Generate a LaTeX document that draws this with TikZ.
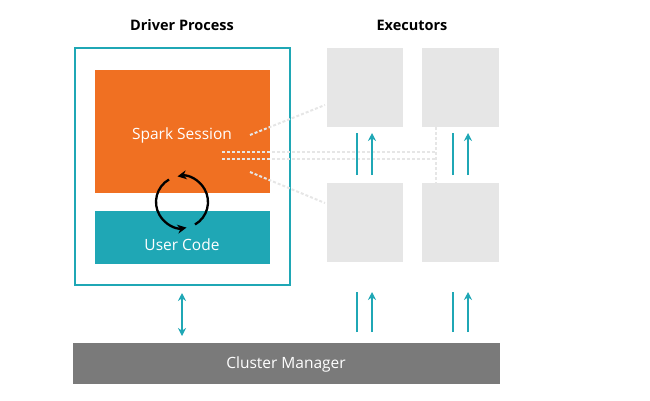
\documentclass[tikz,border=0pt]{standalone}
\usepackage{fontspec}
\usetikzlibrary{arrows.meta,calc}
\setmainfont{Open Sans}
\begin{document}
\begin{tikzpicture}[x=1pt,y=-1pt,
  exec/.style={fill=execc,draw=none},
  dots/.style={draw=dotc,line width=2pt,dash pattern=on 3pt off 2pt},
  lbl/.style={white,font=\fontsize{15.5}{18}\selectfont},
  ttl/.style={font=\fontsize{14.5}{17}\selectfont\bfseries},
  ar/.style={tealc,line width=2pt,-{Stealth[length=8pt,width=8pt]}}]
\definecolor{tealc}{HTML}{1FA7B5}
\definecolor{orangec}{HTML}{F07022}
\definecolor{execc}{HTML}{E6E6E6}
\definecolor{dotc}{HTML}{E6E6E6}
\definecolor{grayc}{HTML}{7A7A7A}
\useasboundingbox (0,0) rectangle (650,400);
\node[ttl] (t1) at (182,25) {Driver Process};
\node[ttl] (t2) at (412,25) {Executors};
\draw[tealc,line width=2pt] (75,48) rectangle (290,285);
\fill[orangec] (95,70) rectangle (270,193);
\node[lbl] (ss) at (182,135) {Spark Session};
\fill[tealc] (95,211) rectangle (270,264);
\node[lbl] (uc) at (182,245) {User Code};
\draw[line width=2.3pt,-{Stealth[length=9pt,width=9pt]}] ($(182,202)+(60:26)$) arc (60:-100:26);
\draw[line width=2.3pt,-{Stealth[length=9pt,width=9pt]}] ($(182,202)+(240:26)$) arc (240:80:26);
\fill[execc] (327,48) rectangle (403,127);
\fill[execc] (422,48) rectangle (499,127);
\fill[execc] (327,183) rectangle (403,262);
\fill[execc] (422,183) rectangle (499,262);
\draw[dots] (250,135) -- (325,105);
\draw[dots] (250,172) -- (325,203);
\draw[dots] (222,152) -- (436,152);
\draw[dots] (222,159) -- (436,159);
\draw[dots] (436,127) -- (436,183);
\foreach \x in {357,453}{
  \foreach \y/\z in {175/133,332/292}{
    \draw[tealc,line width=2pt] (\x,\y) -- (\x,\z);
    \draw[ar] (\x+15,\y) -- (\x+15,\z);
  }}
\draw[tealc,line width=2pt,{Stealth[length=8pt,width=8pt]}-{Stealth[length=8pt,width=8pt]}] (182,293) -- (182,336);
\fill[grayc] (73,343) rectangle (500,384);
\node[lbl] (cm) at (286,364) {Cluster Manager};
\end{tikzpicture}
\end{document}
